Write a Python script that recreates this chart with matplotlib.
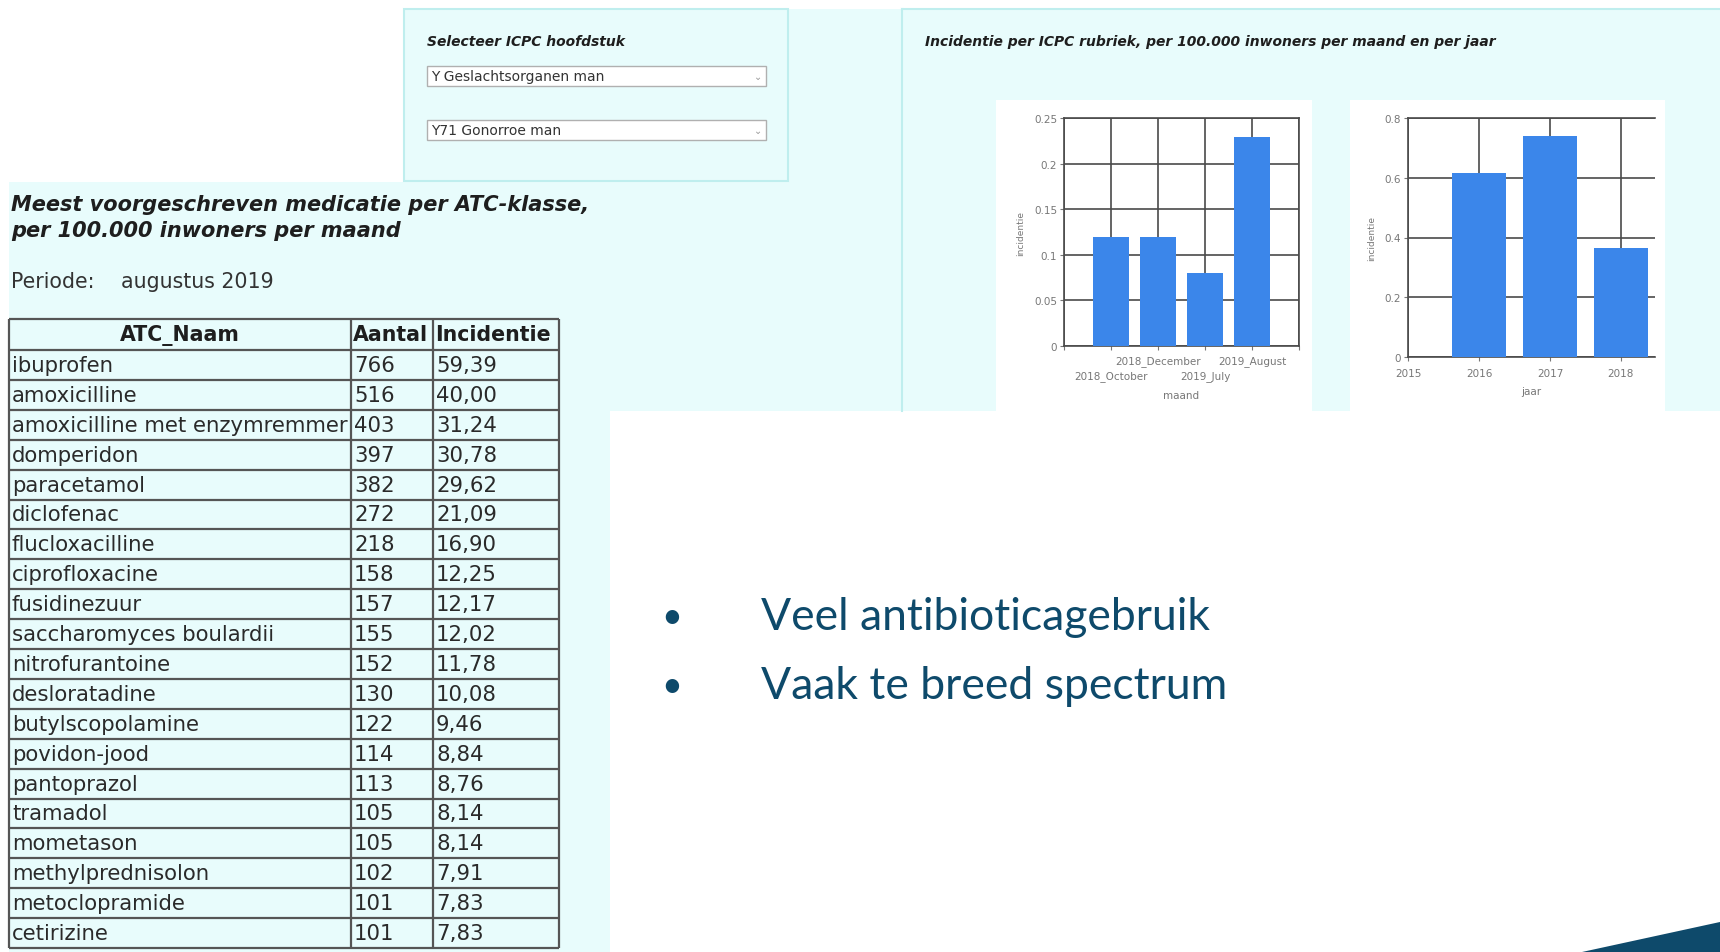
import numpy as np
import matplotlib
matplotlib.use("Agg")
import matplotlib.pyplot as plt
from matplotlib.patches import Rectangle, Polygon

# tabel: meest voorgeschreven medicatie
atc_naam = ["ibuprofen", "amoxicilline", "amoxicilline met enzymremmer", "domperidon",
            "paracetamol", "diclofenac", "flucloxacilline", "ciprofloxacine", "fusidinezuur",
            "saccharomyces boulardii", "nitrofurantoine", "desloratadine", "butylscopolamine",
            "povidon-jood", "pantoprazol", "tramadol", "mometason", "methylprednisolon",
            "metoclopramide", "cetirizine"]
aantal = [766, 516, 403, 397, 382, 272, 218, 158, 157, 155, 152, 130, 122, 114, 113,
          105, 105, 102, 101, 101]
incidentie = [59.39, 40.00, 31.24, 30.78, 29.62, 21.09, 16.90, 12.25, 12.17, 12.02, 11.78,
              10.08, 9.46, 8.84, 8.76, 8.14, 8.14, 7.91, 7.83, 7.83]
kolommen = ["ATC_Naam", "Aantal", "Incidentie"]

# grafieken: incidentie per maand en per jaar
maanden = ["2018_October", "2018_December", "2019_July", "2019_August"]
maand_waarden = [0.12, 0.12, 0.08, 0.229]
maand_ticks = [0, 0.05, 0.1, 0.15, 0.2, 0.25]
jaren = [2016, 2017, 2018]
jaar_waarden = [0.617, 0.74, 0.366]
jaar_ticks = [0, 0.2, 0.4, 0.6, 0.8]

dropdowns = ["Y Geslachtsorganen man", "Y71 Gonorroe man"]
bullets = ["Veel antibioticagebruik", "Vaak te breed spectrum"]

W, H = 1720, 953
CYAAN = "#e8fcfc"
RAND = "#bfeeee"
BLAUW = "#3b86ea"
TEKST = "#1e1e1e"
DONKER = "#0e4a6b"
GRIJS = "#777777"

fig = plt.figure(figsize=(W / 100, H / 100), dpi=100)
fig.patch.set_facecolor("white")

bg = fig.add_axes([0, 0, 1, 1])
bg.set_xlim(0, W)
bg.set_ylim(H, 0)
bg.axis("off")

# achtergrondvlakken
bg.add_patch(Rectangle((404, 10), W - 404, 402, facecolor=CYAAN, edgecolor="none"))
bg.add_patch(Rectangle((9, 183), 601, H - 183, facecolor=CYAAN, edgecolor="none"))
bg.add_patch(Rectangle((404, 10), 384, 172, facecolor=CYAAN, edgecolor=RAND, lw=1.5))
bg.plot([902, W], [10, 10], color=RAND, lw=1.5)
bg.plot([902, 902], [10, 412], color=RAND, lw=1.5)
bg.add_patch(Rectangle((610, 412), W - 610, H - 412, facecolor="white", edgecolor="none"))
bg.add_patch(Rectangle((996, 101), 316, 311, facecolor="white", edgecolor="none"))
bg.add_patch(Rectangle((1350, 101), 315, 311, facecolor="white", edgecolor="none"))
bg.add_patch(Polygon([(1582, H), (W, 923), (W, H)], closed=True, facecolor=DONKER,
                     edgecolor="none"))

# selectiepaneel
bg.text(427, 42, "Selecteer ICPC hoofdstuk", fontsize=10, fontweight="bold",
        fontstyle="italic", color=TEKST, va="center")
for i, label in enumerate(dropdowns):
    y0 = 67 + i * 54
    bg.add_patch(Rectangle((427, y0), 339, 20, facecolor="white", edgecolor="#b0b0b0", lw=1))
    bg.text(431, y0 + 10, label, fontsize=10, color="#333333", va="center")
    bg.text(758, y0 + 10, "⌄", fontsize=7, color="#999999", va="center", ha="center")

bg.text(925, 42, "Incidentie per ICPC rubriek, per 100.000 inwoners per maand en per jaar",
        fontsize=10, fontweight="bold", fontstyle="italic", color=TEKST, va="center")

# titel en periode
bg.text(11, 205, "Meest voorgeschreven medicatie per ATC-klasse,", fontsize=15,
        fontweight="bold", fontstyle="italic", color=TEKST, va="center")
bg.text(11, 231, "per 100.000 inwoners per maand", fontsize=15,
        fontweight="bold", fontstyle="italic", color=TEKST, va="center")
bg.text(11, 282, "Periode:", fontsize=14.8, color="#333333", va="center")
bg.text(121, 282, "augustus 2019", fontsize=14.8, color="#333333", va="center")

# tabel
col_x = [9, 351, 433, 559]
top, head_bot = 320, 351
row_h = (949 - head_bot) / len(atc_naam)
bottom = head_bot + row_h * len(atc_naam)
lijn = dict(color="#555555", lw=1.6, solid_capstyle="butt")
for x in col_x:
    bg.plot([x, x], [top, bottom], **lijn)
bg.plot([col_x[0], col_x[-1]], [top, top], **lijn)
for r in range(len(atc_naam) + 1):
    y = head_bot + r * row_h
    bg.plot([col_x[0], col_x[-1]], [y, y], **lijn)

bg.text((col_x[0] + col_x[1]) / 2, (top + head_bot) / 2, kolommen[0], fontsize=14.8,
        fontweight="bold", color=TEKST, ha="center", va="center")
bg.text(col_x[1] + 2, (top + head_bot) / 2, kolommen[1], fontsize=14.8,
        fontweight="bold", color=TEKST, va="center")
bg.text(col_x[2] + 2, (top + head_bot) / 2, kolommen[2], fontsize=14.8,
        fontweight="bold", color=TEKST, va="center")
for r, (naam, n, inc) in enumerate(zip(atc_naam, aantal, incidentie)):
    yc = head_bot + (r + 0.5) * row_h
    bg.text(col_x[0] + 3, yc, naam, fontsize=15.3, color="#2a2a2a", va="center")
    bg.text(col_x[1] + 3, yc, str(n), fontsize=15.3, color="#2a2a2a", va="center")
    bg.text(col_x[2] + 3, yc, f"{inc:.2f}".replace(".", ","), fontsize=15.3,
            color="#2a2a2a", va="center")

# bullets
for i, tekst in enumerate(bullets):
    y = 618 + i * 69
    bg.text(672, y, "•", fontsize=26, color=DONKER, va="center", ha="center",
            family="Lato")
    bg.text(761, y, tekst, fontsize=32, color=DONKER, va="center", family="Lato")


def px_axes(left, right, top, bot):
    return fig.add_axes([left / W, 1 - bot / H, (right - left) / W, (bot - top) / H])


def stijl(ax):
    ax.set_facecolor("white")
    ax.set_axisbelow(True)
    ax.grid(True, color="#4a4a4a", lw=1.2)
    for s in ax.spines.values():
        s.set_color("#4a4a4a")
        s.set_linewidth(1.2)
    ax.tick_params(labelsize=7.5, colors=GRIJS, length=3, width=0.8, pad=2)


# grafiek per maand
ax1 = px_axes(1064, 1299, 119, 347)
stijl(ax1)
x = np.arange(len(maanden))
ax1.bar(x, maand_waarden, width=0.77, color=BLAUW, zorder=3)
ax1.set_xlim(-1, len(maanden))
ax1.set_ylim(0, 0.25)
ax1.set_yticks(maand_ticks)
ax1.set_yticklabels([f"{t:g}" for t in maand_ticks])
ax1.set_xticks(np.arange(-1, len(maanden) + 1))
ax1.set_xticklabels([])
# labels om en om op twee rijen
for i, m in enumerate(maanden):
    dy = -15 if i % 2 else -30
    ax1.annotate(m, (i, 0), xycoords=("data", "axes fraction"), xytext=(0, dy),
                 textcoords="offset pixels", ha="center", va="center",
                 fontsize=7.5, color=GRIJS)
ax1.set_ylabel("incidentie", fontsize=6.5, color=GRIJS, labelpad=6)
ax1.text(0.5, -0.215, "maand", transform=ax1.transAxes, fontsize=7.5, color=GRIJS,
         ha="center", va="center")

# grafiek per jaar
ax2 = px_axes(1408, 1655, 119, 358)
stijl(ax2)
ax2.spines["right"].set_visible(False)
ax2.bar(jaren, jaar_waarden, width=0.77, color=BLAUW, zorder=3)
ax2.set_xlim(jaren[0] - 1, jaren[-1] + 0.48)
ax2.set_ylim(0, 0.8)
ax2.set_yticks(jaar_ticks)
ax2.set_yticklabels([f"{t:g}" for t in jaar_ticks])
ax2.set_xticks([jaren[0] - 1] + jaren)
ax2.tick_params(axis="x", pad=5)
ax2.set_ylabel("incidentie", fontsize=6.5, color=GRIJS, labelpad=6)
ax2.set_xlabel("jaar", fontsize=7.5, color=GRIJS, labelpad=6)

fig.savefig("out.png", dpi=100, facecolor="white")
